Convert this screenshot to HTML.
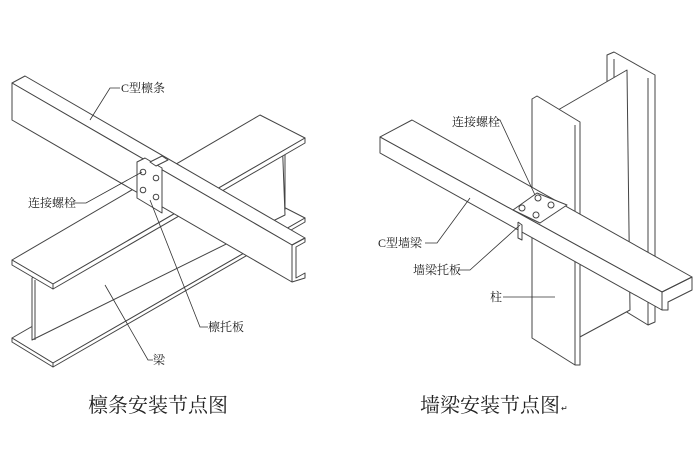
<!DOCTYPE html>
<html><head><meta charset="utf-8"><style>
html,body{margin:0;padding:0;background:#fff;}
svg{display:block}
text{font-family:"Liberation Serif","Noto Serif CJK SC",serif;fill:#222}
</style></head><body>
<svg width="700" height="466" viewBox="0 0 700 466" xmlns="http://www.w3.org/2000/svg">
<g fill="#fff" stroke="#444" stroke-width="1" stroke-linejoin="round">
<!-- LEFT: I beam bottom flange -->
<polygon points="12,338 260,195 305,218 53,363"/>
<polygon points="53,363 305,218 305,222 53,367"/>
<polygon points="12,338 53,363 53,367 12,342"/>
<!-- web -->
<polygon points="32,278 282,135 285,215 32,340"/>
<line x1="35" y1="280" x2="35" y2="340"/>
<line x1="285" y1="138" x2="285" y2="210"/>
<!-- top flange -->
<polygon points="12,260 260,115 305,138 53,284"/>
<polygon points="53,284 305,138 305,143 53,289"/>
<polygon points="12,260 53,284 53,289 12,265"/>
<!-- purlin -->
<polygon points="12,83 25,76 305,238 292,245"/>
<polygon points="12,83 292,245 292,282 12,120"/>
<polyline points="292,245 305,238 305,242 296,247 296,278 305,273 305,278 292,282" fill="none"/>
<!-- plate -->
<polygon points="137,162 145,158 162,168 162,213 137,198"/>
<polygon points="150,162 162,156 168,160 156,166"/>
<g fill="#fff"><circle cx="143" cy="172" r="2.8"/><circle cx="156" cy="178" r="2.8"/><circle cx="143" cy="190" r="2.8"/><circle cx="156" cy="197" r="2.8"/></g>

<!-- RIGHT: column back flange -->
<polygon points="607,55 614,52 655,75 655,322 648,325 607,300"/>
<line x1="614" y1="59" x2="614" y2="302"/>
<line x1="648" y1="78" x2="648" y2="325"/>
<!-- web -->
<polygon points="558,110 627,70 630,310 578,338"/>
<!-- front flange -->
<polygon points="532,99 537,96 580,122 580,365 575,365 532,338"/>
<line x1="575" y1="125" x2="575" y2="365"/>
<!-- wall beam -->
<polygon points="380,137 412,120 692,277 662,292"/>
<polygon points="380,137 662,292 662,310 380,153"/>
<polyline points="662,292 692,277 692,290 668,302 668,310 662,310" fill="none"/>
<!-- plate -->
<polygon points="513,210 537,193 567,205 540,223"/>
<polyline points="518,222 522,225 522,240 518,238 518,222" />
<g fill="#fff"><circle cx="538" cy="198" r="3"/><circle cx="522" cy="208" r="3"/><circle cx="551" cy="205" r="3"/><circle cx="536" cy="215" r="3"/></g>
</g>

<!-- leaders -->
<g fill="none" stroke="#333" stroke-width="0.8">
<polyline points="90,120 110,88 120,88"/>
<polyline points="73,203 86,203 142,172"/>
<polyline points="150,200 200,327 208,327"/>
<polyline points="105,285 148,360 153,360"/>
<polyline points="497,120 500,120 535,195"/>
<polyline points="425,243 437,243 470,198"/>
<polyline points="458,270 470,270 520,225"/>
<polyline points="503,297 555,297"/>
</g>
<g font-size="12">
<text x="121" y="92">C型檩条</text>
<text x="28" y="207">连接螺栓</text>
<text x="208" y="331">檩托板</text>
<text x="153" y="364">梁</text>
<text x="452" y="126">连接螺栓</text>
<text x="378" y="247">C型墙梁</text>
<text x="413" y="274">墙梁托板</text>
<text x="490" y="301">柱</text>
</g>
<text x="88" y="412" font-size="20">檩条安装节点图</text>
<text x="420" y="412" font-size="20">墙梁安装节点图</text>
<text x="561" y="411" font-size="8" fill="#999">↵</text>
</svg>
</body></html>
